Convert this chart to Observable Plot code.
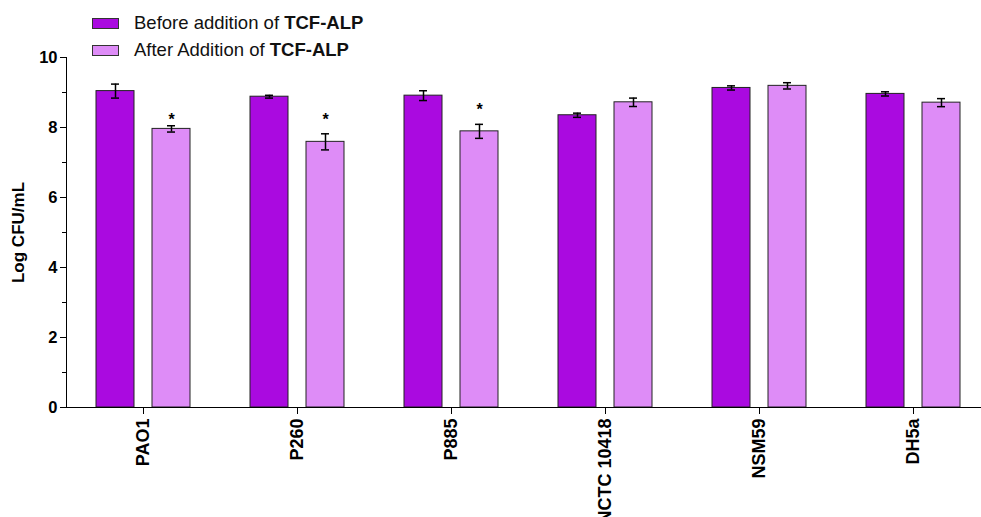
<!DOCTYPE html>
<html>
<head>
<meta charset="utf-8">
<script src="https://cdn.jsdelivr.net/npm/d3@7"></script>
<script src="https://cdn.jsdelivr.net/npm/@observablehq/plot@0.6"></script>
<style>
  html, body { margin: 0; padding: 0; background: #fff; }
  #wrap { position: relative; width: 981px; height: 517px; overflow: hidden; font-family: "Liberation Sans", Arial, sans-serif; }
  .leg { position: absolute; left: 92px; display: flex; align-items: center; font-size: 18.5px; color: #111; white-space: nowrap; }
  .sw { width: 25px; height: 9px; border: 1px solid #333; margin-right: 15px; }
</style>
</head>
<body>
<div id="wrap">
  <div class="leg" style="top:12px"><div class="sw" style="background:#AA0AE0"></div><span>Before addition of <b>TCF-ALP</b></span></div>
  <div class="leg" style="top:39px"><div class="sw" style="background:#DE8CF7"></div><span>After Addition of <b>TCF-ALP</b></span></div>
  <div id="chart"></div>
</div>
<script>
const strains = ["PAO1", "P260", "P885", "NCTC 10418", "NSM59", "DH5a"];
const seriesNames = ["Before", "After"];
const seriesColors = ["#AA0AE0", "#DE8CF7"];
const before = [9.04, 8.88, 8.91, 8.35, 9.13, 8.96];
const beforeErr = [0.20, 0.04, 0.14, 0.06, 0.06, 0.06];
const after = [7.96, 7.59, 7.89, 8.72, 9.19, 8.71];
const afterErr = [0.09, 0.23, 0.20, 0.12, 0.09, 0.115];
const starStrains = ["PAO1", "P260", "P885"];
const starY = [8.23, 8.23, 8.49];
const yMajorTicks = [0, 2, 4, 6, 8, 10];
const yMinorTicks = [1, 3, 5, 7, 9];

const rows = strains.flatMap((s, i) => [
  {strain: s, series: "Before", value: before[i], err: beforeErr[i]},
  {strain: s, series: "After", value: after[i], err: afterErr[i]}
]);
const stars = starStrains.map((s, i) => ({strain: s, series: "After", y: starY[i]}));

const chart = Plot.plot({
  width: 981,
  height: 517,
  marginLeft: 64,
  marginRight: -10,
  marginTop: 57,
  marginBottom: 110,
  style: {fontFamily: "'Liberation Sans', Arial, sans-serif", background: "#fff", color: "#000", overflow: "visible"},
  fx: {domain: strains, padding: 0, label: null},
  x: {domain: seriesNames, paddingInner: 0.316, paddingOuter: 0.509, axis: null},
  y: {domain: [0, 10], axis: null},
  color: {domain: seriesNames, range: seriesColors},
  marks: [
    Plot.barY(rows, {fx: "strain", x: "series", y: "value", fill: "series", stroke: "#222", strokeWidth: 1}),
    Plot.ruleX(rows, {fx: "strain", x: "series", y1: d => d.value - d.err, y2: d => d.value + d.err, stroke: "#000", strokeWidth: 1.5}),
    Plot.tickY(rows, {fx: "strain", x: "series", y: d => d.value + d.err, stroke: "#000", strokeWidth: 1.5, insetLeft: 15, insetRight: 15}),
    Plot.tickY(rows, {fx: "strain", x: "series", y: d => d.value - d.err, stroke: "#000", strokeWidth: 1.5, insetLeft: 15, insetRight: 15}),
    Plot.text(stars, {fx: "strain", x: "series", y: "y", text: () => "*", fontSize: 16, fontWeight: "bold", fill: "#000"}),
    Plot.ruleY([0], {stroke: "#000", strokeWidth: 1}),
    Plot.frame({anchor: "left", facetAnchor: "left", stroke: "#000"}),
    Plot.axisY({ticks: yMinorTicks, tickSize: 4, text: null, label: null, stroke: "#000"}),
    Plot.axisY({ticks: yMajorTicks, tickSize: 6, tickPadding: 3, fontSize: 16.5, fontWeight: "bold", label: null, stroke: "#000"}),
    Plot.axisY({ticks: [], label: "Log CFU/mL", labelAnchor: "center", labelOffset: 55, labelArrow: "none", fontSize: 17, fontWeight: "bold"}),
    Plot.axisFx({anchor: "bottom", tickSize: 7, tickPadding: 4, tickRotate: -90, fontSize: 18, fontWeight: "bold", label: null, stroke: "#000"})
  ]
});
document.getElementById("chart").appendChild(chart);
</script>
</body>
</html>
